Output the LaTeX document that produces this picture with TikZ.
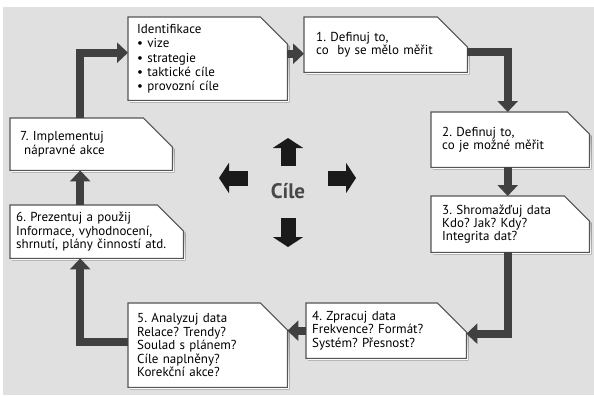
\documentclass[tikz,border=0pt]{standalone}
\usepackage{fontspec}
\setmainfont{PT Sans}
\usepackage{tikz}
\usetikzlibrary{arrows.meta,backgrounds}
\definecolor{paper}{HTML}{E0E0E0}
\definecolor{frame}{HTML}{555555}
\definecolor{shade}{HTML}{8C8C8C}
\definecolor{flow}{HTML}{404040}
\definecolor{ink}{HTML}{1A1A1A}
\frenchspacing
% frame with cut top-right corner and a small shadow: node, cut size
\newcommand{\cutframe}[2]{%
  \fill[shade,transform canvas={shift={(2bp,-2bp)}}] (#1.south west) -- (#1.north west)
    -- ([xshift=-#2]#1.north east) -- ([yshift=-#2]#1.north east) -- (#1.south east) -- cycle;
  \filldraw[fill=white,draw=frame,line width=1.1bp] (#1.south west) -- (#1.north west)
    -- ([xshift=-#2]#1.north east) -- ([yshift=-#2]#1.north east) -- (#1.south east) -- cycle;
}

\begin{document}
\begin{tikzpicture}[x=1bp,y=-1bp,
  stepbox/.style={anchor=north west,align=left,inner ysep=0pt,
    font=\fontsize{13bp}{13.4bp}\selectfont},
  flowline/.style={draw=flow,line width=8bp,-{Triangle[width=20bp,length=11bp]}},
  goalarrow/.style={draw=ink,line width=15bp,-{Triangle[width=30bp,length=10bp]}}]
  \useasboundingbox (0,0) rectangle (594,395);

  \node[stepbox,text width=141bp,inner xsep=9bp,minimum height=83bp,
    font=\fontsize{13bp}{14.3bp}\selectfont] (b0) at (128,17)
    {Identifikace\\• vize\\• strategie\\• taktické cíle\\• provozní cíle};
  \node[stepbox,text width=139bp,inner xsep=12bp,minimum height=55bp] (b1) at (304,17)
    {1. Definuj to,\\co~~by se mělo měřit};
  \node[stepbox,text width=136bp,inner xsep=11bp,minimum height=55bp] (b2) at (431,112)
    {2. Definuj to,\\co je možné měřit};
  \node[stepbox,text width=136bp,inner xsep=11bp,minimum height=56bp] (b3) at (431,196)
    {3. Shromažďuj data\\Kdo? Jak? Kdy?\\Integrita dat?};
  \node[stepbox,text width=148bp,inner xsep=6bp,minimum height=55bp] (b4) at (306,303)
    {4. Zpracuj data\\Frekvence? Formát?\\Systém? Přesnost?};
  \node[stepbox,text width=141bp,inner xsep=9bp,minimum height=84bp] (b5) at (128,303)
    {5. Analyzuj data\\Relace? Trendy?\\Soulad s plánem?\\Cíle naplněny?\\Korekční akce?};
  \node[stepbox,text width=161bp,inner xsep=6bp,minimum height=53bp] (b6) at (10,205)
    {6. Prezentuj a použij\\Informace, vyhodnocení,\\shrnutí, plány činností atd.};
  \node[stepbox,text width=142bp,inner xsep=10bp,minimum height=52bp] (b7) at (10,118)
    {7. Implementuj\\\hspace{4bp}nápravné akce};

  \node[anchor=base,font=\bfseries\fontsize{21bp}{24bp}\selectfont,text=ink!80] (goal) at (288,198) {Cíle};

  \begin{scope}[on background layer]
    \fill[paper] (3,7) rectangle (594,395);
    \cutframe{b0}{27bp}
    \cutframe{b1}{30bp}
    \cutframe{b2}{22bp}
    \cutframe{b3}{25bp}
    \cutframe{b4}{29bp}
    \cutframe{b5}{27bp}
    \cutframe{b6}{26bp}
    \cutframe{b7}{29bp}
  \end{scope}

  % cycle
  \draw[flowline] ([xshift=70bp]b7.north west) |- ([yshift=6bp]b0.west);
  \draw[flowline] ([yshift=5bp]b0.east) -- ([yshift=5bp]b0.east -| b1.west);
  \draw[flowline] ([yshift=-7.5bp]b1.east) -| ([xshift=-2.5bp]b2.north);
  \draw[flowline] ([xshift=-2.5bp]b2.south) -- ([xshift=-2.5bp]b3.north);
  \draw[flowline] ([xshift=-2.5bp]b3.south) |- ([yshift=-3bp]b4.east);
  \draw[flowline] (b4.west) -- (b4.west -| b5.east);
  \draw[flowline] ([yshift=3bp]b5.west) -| ([xshift=-16.5bp]b6.south);
  \draw[flowline] ([xshift=-16.5bp]b6.north) -- ([xshift=-16.5bp]b6.north |- b7.south);

  % arrows round the goal
  \draw[goalarrow] ([yshift=32bp]goal.base) -- ([yshift=60bp]goal.base);
  \draw[goalarrow] ([yshift=-20bp]goal.base) -- ([yshift=-49bp]goal.base);
  \draw[goalarrow] ([xshift=-40bp,yshift=20bp]goal.base) -- ([xshift=-69bp,yshift=20bp]goal.base);
  \draw[goalarrow] ([xshift=40bp,yshift=20bp]goal.base) -- ([xshift=68bp,yshift=20bp]goal.base);
\end{tikzpicture}
\end{document}
